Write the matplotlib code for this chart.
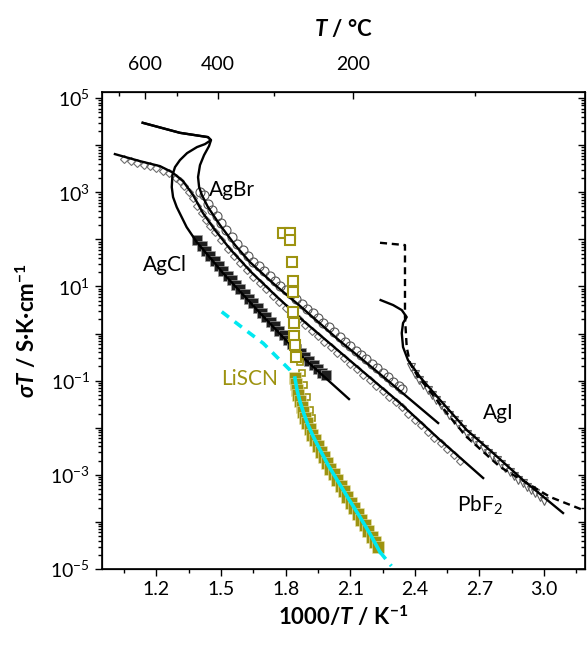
import numpy as np
import matplotlib
matplotlib.use("Agg")
import matplotlib.pyplot as plt
from matplotlib.ticker import LogLocator, FuncFormatter, MultipleLocator, NullFormatter

plt.rcParams['font.family'] = ['Lato', 'DejaVu Sans']
plt.rcParams['mathtext.fontset'] = 'custom'
plt.rcParams['mathtext.rm'] = 'Lato'
plt.rcParams['mathtext.it'] = 'Lato:italic'
plt.rcParams['mathtext.bf'] = 'Lato:bold'
plt.rcParams['mathtext.bfit'] = 'Lato:italic:bold'
plt.rcParams['mathtext.fallback'] = 'stixsans'

# --- data: x = 1000/T (K^-1), y = log10(sigma*T) ---
agcl_line_x = [1.136, 1.309, 1.439, 1.453, 1.425, 1.388, 1.342, 1.309, 1.286, 1.274, 1.271,
               1.277, 1.294, 1.340, 1.387, 1.509, 1.681, 1.867, 2.094]
agcl_line_y = [4.476, 4.263, 4.172, 4.108, 4.023, 3.960, 3.832, 3.684, 3.535, 3.365, 3.110,
               2.898, 2.686, 2.261, 1.943, 1.285, 0.435, -0.456, -1.391]

agcl_x = [1.39, 1.41, 1.43, 1.45, 1.47, 1.49, 1.51, 1.53, 1.55, 1.57, 1.59, 1.61, 1.63, 1.65,
          1.67, 1.69, 1.71, 1.73, 1.75, 1.77, 1.79, 1.81, 1.83, 1.85, 1.87, 1.89, 1.91, 1.93,
          1.95, 1.97, 1.985]
agcl_y = [1.98, 1.87, 1.76, 1.65, 1.55, 1.44, 1.33, 1.23, 1.13, 1.03, 0.94, 0.84, 0.74, 0.64,
          0.54, 0.44, 0.35, 0.25, 0.15, 0.06, -0.04, -0.13, -0.23, -0.32, -0.42, -0.50, -0.58,
          -0.66, -0.75, -0.83, -0.89]

agbr_line_x = [1.136, 1.309, 1.439, 1.453, 1.444, 1.421, 1.402, 1.393, 1.398, 1.411, 1.439,
               1.495, 1.565, 1.634, 1.751, 1.867, 2.052, 2.238, 2.508]
agbr_line_y = [4.476, 4.263, 4.172, 4.108, 3.981, 3.790, 3.577, 3.323, 3.110, 2.941, 2.686,
               2.304, 1.879, 1.518, 1.030, 0.584, -0.159, -0.860, -1.900]

agbr_x = [1.40, 1.42, 1.44, 1.46, 1.48, 1.50, 1.525, 1.55, 1.575, 1.60, 1.625, 1.65, 1.675,
          1.70, 1.725, 1.75, 1.775, 1.80, 1.825, 1.85, 1.875, 1.90, 1.925, 1.95, 1.975, 2.00,
          2.025, 2.05, 2.075, 2.10, 2.125, 2.15, 2.175, 2.20, 2.225, 2.25, 2.275, 2.30, 2.325,
          2.34]
agbr_y = [3.00, 2.94, 2.76, 2.62, 2.49, 2.35, 2.20, 2.05, 1.91, 1.78, 1.65, 1.53, 1.43,
          1.32, 1.22, 1.11, 1.02, 0.92, 0.83, 0.73, 0.63, 0.53, 0.43, 0.33, 0.23, 0.13,
          0.03, -0.07, -0.17, -0.26, -0.36, -0.45, -0.54, -0.64, -0.73, -0.83, -0.92, -1.02,
          -1.12, -1.17]

pbf2_line_x = [1.007, 1.123, 1.216, 1.272, 1.323, 1.370, 1.416, 1.472, 1.542, 1.635, 1.751,
               1.867, 2.052, 2.331, 2.517, 2.717]
pbf2_line_y = [3.811, 3.662, 3.556, 3.429, 3.238, 2.941, 2.558, 2.197, 1.794, 1.327, 0.817,
               0.329, -0.393, -1.476, -2.261, -3.068]

pbf2_x = [1.05, 1.08, 1.11, 1.14, 1.17, 1.20, 1.23, 1.26, 1.29, 1.31, 1.33, 1.35, 1.37, 1.39,
          1.41, 1.43, 1.45, 1.47, 1.50, 1.53, 1.56, 1.59, 1.62, 1.65, 1.68, 1.71, 1.74, 1.77,
          1.80, 1.83, 1.86, 1.89, 1.92, 1.95, 1.98, 2.01, 2.04, 2.07, 2.10, 2.13, 2.16, 2.19,
          2.22, 2.25, 2.28, 2.31, 2.34, 2.37, 2.40, 2.43, 2.46, 2.49, 2.52, 2.55, 2.58, 2.61]
pbf2_y = [3.70, 3.66, 3.62, 3.58, 3.55, 3.52, 3.46, 3.40, 3.30, 3.23, 3.13, 3.01, 2.88, 2.71,
          2.55, 2.41, 2.28, 2.15, 1.98, 1.80, 1.64, 1.49, 1.34, 1.20, 1.07, 0.94, 0.80, 0.68,
          0.55, 0.42, 0.30, 0.18, 0.06, -0.05, -0.17, -0.29, -0.41, -0.52, -0.64, -0.76, -0.87,
          -0.99, -1.11, -1.22, -1.34, -1.45, -1.57, -1.70, -1.83, -1.95, -2.08, -2.21, -2.33,
          -2.45, -2.57, -2.70]

agi_solid_x = [2.241, 2.299, 2.339, 2.362, 2.345, 2.339, 2.345, 2.368, 2.424, 2.517, 2.641,
               2.763, 2.902, 3.088]
agi_solid_y = [0.711, 0.605, 0.499, 0.350, 0.223, 0.011, -0.287, -0.563, -0.924, -1.412,
               -2.049, -2.537, -3.110, -3.811]
agi_dash_x = [2.238, 2.354, 2.354, 2.354, 2.362, 2.377, 2.415, 2.455, 2.563, 2.641, 2.796,
              2.920, 3.028, 3.181]
agi_dash_y = [1.928, 1.879, 1.136, 0.350, -0.287, -0.626, -0.924, -1.136, -1.773, -2.197,
              -2.834, -3.174, -3.471, -3.747]

agi_x = [2.38, 2.40, 2.42, 2.44, 2.46, 2.48, 2.50, 2.52, 2.54, 2.56, 2.58, 2.60, 2.62, 2.64,
         2.66, 2.68, 2.70, 2.72, 2.74, 2.76, 2.78, 2.80, 2.82, 2.84, 2.86, 2.88, 2.90, 2.92,
         2.94, 2.96, 2.98, 3.00]
agi_y = [-0.72, -0.86, -0.98, -1.09, -1.20, -1.30, -1.41, -1.51, -1.62, -1.72, -1.83, -1.93,
         -2.03, -2.13, -2.21, -2.29, -2.37, -2.45, -2.53, -2.61, -2.69, -2.77, -2.85, -2.93,
         -3.02, -3.10, -3.18, -3.25, -3.32, -3.39, -3.47, -3.55]

liscn_open_x = [1.789, 1.820, 1.820, 1.828, 1.833, 1.833, 1.836, 1.839, 1.839, 1.843, 1.848]
liscn_open_y = [2.140, 2.140, 1.985, 1.524, 1.121, 0.887, 0.463, 0.217, -0.053, -0.244, -0.493]
liscn_small_x = [1.866, 1.875, 1.885, 1.898, 1.913, 1.921]
liscn_small_y = [-0.600, -0.839, -1.094, -1.348, -1.624, -1.794]
liscn_fill_x = [1.843, 1.848, 1.853, 1.859, 1.866, 1.874, 1.882, 1.891, 1.901, 1.912, 1.924,
                1.937, 1.951, 1.965, 1.978, 1.992, 2.007, 2.023, 2.039, 2.055, 2.071, 2.087,
                2.103, 2.119, 2.136, 2.152, 2.168, 2.183, 2.199, 2.215, 2.228]
liscn_fill_y = [-0.95, -1.07, -1.19, -1.31, -1.43, -1.55, -1.67, -1.79, -1.91, -2.03, -2.15,
                -2.27, -2.39, -2.51, -2.63, -2.75, -2.87, -2.99, -3.11, -3.23, -3.35, -3.47,
                -3.59, -3.71, -3.83, -3.95, -4.07, -4.19, -4.31, -4.43, -4.53]

fit_solid_x = [1.843, 1.853, 1.867, 1.885, 1.904, 1.927, 1.960, 1.997, 2.039, 2.090, 2.145,
               2.192, 2.238]
fit_solid_y = [-0.945, -1.200, -1.454, -1.709, -1.943, -2.176, -2.473, -2.792, -3.110,
               -3.493, -3.896, -4.257, -4.639]
fit_dash_hi_x = [1.503, 1.573, 1.634, 1.696, 1.758, 1.820, 1.839]
fit_dash_hi_y = [0.463, 0.217, 0.004, -0.208, -0.493, -0.775, -0.902]
fit_dash_lo_x = [2.238, 2.291]
fit_dash_lo_y = [-4.639, -4.936]

top_major_c = [600, 400, 200]
top_minor_c = [700, 500, 300, 100]

olive = '#9d9310'
cyan = '#00e8f0'


def p(v):
    return np.power(10.0, v)


fig = plt.figure(figsize=(5.87, 6.45), dpi=100)
ax = fig.add_axes([102 / 587, 76 / 645, 483 / 587, 477 / 645])
ax.set_yscale('log')

# black curves
ax.plot(agcl_line_x, p(agcl_line_y), color='black', lw=1.7, zorder=3)
ax.plot(agbr_line_x, p(agbr_line_y), color='black', lw=1.7, zorder=3)
ax.plot(pbf2_line_x, p(pbf2_line_y), color='black', lw=1.7, zorder=3)
ax.plot(agi_solid_x, p(agi_solid_y), color='black', lw=1.7, zorder=3)
ax.plot(agi_dash_x, p(agi_dash_y), color='black', lw=1.7, ls=(0, (3, 2)), zorder=3)

ax.plot(agcl_x, p(agcl_y), ls='none', marker='s', ms=7.5, mfc='#1e1e1e', mec='#9a9a9a',
        mew=0.5, zorder=2)
ax.plot(agbr_x, p(agbr_y), ls='none', marker='o', ms=6.5, mfc='none', mec='#555555',
        mew=0.8, zorder=2)
ax.plot(pbf2_x, p(pbf2_y), ls='none', marker='D', ms=4.5, mfc='none', mec='#707070',
        mew=0.8, zorder=2)
ax.plot(agi_x, p(agi_y), ls='none', marker='v', ms=6, mfc='none', mec='#606060',
        mew=0.8, zorder=2)

# LiSCN
ax.plot(liscn_small_x, p(liscn_small_y), ls='none', marker='s', ms=4.5, mfc='white',
        mec=olive, mew=1.2, zorder=4)
ax.plot(liscn_fill_x, p(liscn_fill_y), ls='none', marker='s', ms=8, mfc=olive,
        mec='#e8e4b0', mew=0.4, zorder=4)
ax.plot(liscn_open_x, p(liscn_open_y), ls='none', marker='s', ms=7, mfc='white',
        mec=olive, mew=1.5, zorder=4)
ax.plot(fit_solid_x, p(fit_solid_y), color=cyan, lw=2.6, zorder=5)
ax.plot(fit_dash_hi_x, p(fit_dash_hi_y), color=cyan, lw=2.6, ls=(0, (2.5, 2)), zorder=5)
ax.plot(fit_dash_lo_x, p(fit_dash_lo_y), color=cyan, lw=2.6, ls=(0, (2.5, 2)), zorder=5)

# labels
fs = 15
ax.text(1.551, p(3.05), 'AgBr', fontsize=fs, ha='center', va='center')
ax.text(1.240, p(1.45), 'AgCl', fontsize=fs, ha='center', va='center')
ax.text(2.786, p(-1.69), 'AgI', fontsize=fs, ha='center', va='center')
ax.text(2.700, p(-3.64), 'PbF$_2$', fontsize=fs, ha='center', va='center')
ax.text(1.634, p(-0.97), 'LiSCN', fontsize=fs, ha='center', va='center', color=olive)

# axes
ax.set_xlim(0.947, 3.19)
ax.set_ylim(1e-5, p(5.13))
ax.xaxis.set_major_locator(MultipleLocator(0.3))
ax.xaxis.set_minor_locator(MultipleLocator(0.15))
ax.xaxis.set_major_formatter(FuncFormatter(lambda v, pos: '%.1f' % v))
ax.yaxis.set_major_locator(LogLocator(base=10, numticks=20))
ax.yaxis.set_minor_locator(LogLocator(base=10, subs=np.arange(2, 10), numticks=20))
ax.yaxis.set_minor_formatter(NullFormatter())


def ylab(v, pos):
    e = int(round(np.log10(v)))
    return '10$^{%d}$' % e if e % 2 else ''


ax.yaxis.set_major_formatter(FuncFormatter(ylab))
ax.tick_params(which='both', direction='out', labelsize=14, width=1)
ax.tick_params(which='major', length=5)
ax.tick_params(which='minor', length=3)
for s in ax.spines.values():
    s.set_linewidth(1.2)

ax.set_xlabel(r'1000/$\mathbfit{T}$ / K$^{\mathbf{-1}}$', fontsize=16, fontweight='bold',
              labelpad=5)
ax.set_ylabel(r'$\mathbfit{\sigma T}$ / S·K·cm$^{\mathbf{-1}}$', fontsize=16,
              fontweight='bold', labelpad=8)

# right axis (ticks inward)
axr = ax.twinx()
axr.set_yscale('log')
axr.set_ylim(ax.get_ylim())
axr.yaxis.set_major_locator(LogLocator(base=10, numticks=20))
axr.yaxis.set_minor_locator(LogLocator(base=10, subs=np.arange(2, 10), numticks=20))
axr.yaxis.set_major_formatter(NullFormatter())
axr.yaxis.set_minor_formatter(NullFormatter())
axr.tick_params(which='both', direction='in', width=1)
axr.tick_params(which='major', length=5)
axr.tick_params(which='minor', length=3)

# top axis: temperature in C
axt = ax.twiny()
axt.set_xlim(ax.get_xlim())
axt.set_xticks([1000 / (t + 273.15) for t in top_major_c])
axt.set_xticklabels([str(t) for t in top_major_c])
axt.set_xticks([1000 / (t + 273.15) for t in top_minor_c], minor=True)
axt.tick_params(which='both', direction='in', labelsize=14, width=1, pad=14)
axt.tick_params(which='major', length=5)
axt.tick_params(which='minor', length=3)
axt.set_xlabel(r'$\mathbfit{T}$ / °C', fontsize=16, fontweight='bold', labelpad=14)

fig.savefig('out.png', dpi=100)
